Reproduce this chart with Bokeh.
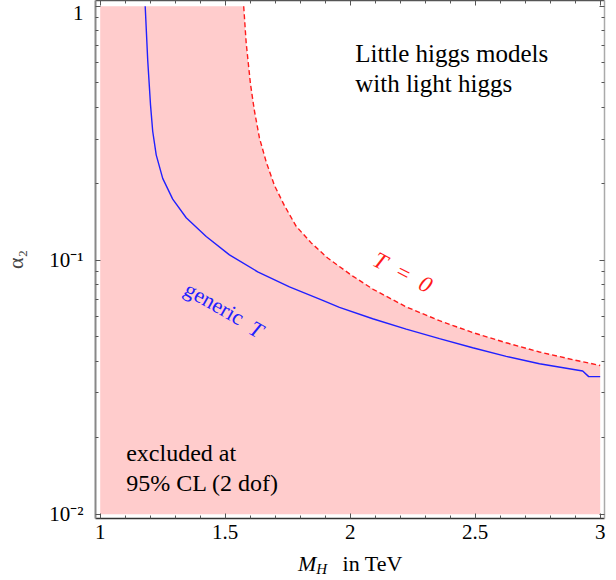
from bokeh.plotting import figure
from bokeh.models import Range1d, LinearAxis, LogAxis, FixedTicker, Label, Div
from bokeh.layouts import column
from bokeh.embed import file_html
from bokeh.resources import INLINE

# ---- data ----
# dashed T = 0 boundary (edge of the excluded region)
t0_x = [1.574, 1.584, 1.601, 1.617, 1.637, 1.664, 1.697, 1.737, 1.784, 1.844,
        1.91, 2.004, 2.09, 2.224, 2.357, 2.49, 2.624, 2.757, 2.89, 3.0]
t0_y = [1.0, 0.716, 0.495, 0.387, 0.303, 0.244, 0.197, 0.164, 0.136, 0.117,
        0.102, 0.0874, 0.077, 0.0655, 0.0578, 0.0519, 0.0473, 0.0435, 0.0406,
        0.0385]
# solid "generic T" curve
gen_x = [1.18, 1.19, 1.201, 1.21, 1.224, 1.25, 1.29, 1.344, 1.424, 1.517,
         1.63, 1.757, 1.89, 1.957, 2.09, 2.224, 2.357, 2.49, 2.624, 2.757,
         2.93, 2.954, 3.0]
gen_y = [1.0, 0.614, 0.412, 0.322, 0.26, 0.21, 0.174, 0.147, 0.124, 0.105,
         0.0900, 0.0785, 0.0695, 0.0652, 0.0588, 0.0535, 0.0491, 0.0452,
         0.0418, 0.0391, 0.0366, 0.0348, 0.0348]
# bounds of the scanned region
x_lo, x_hi = 1.0, 3.0
y_lo, y_hi = 0.01, 1.0

x_ticks = [1, 1.5, 2, 2.5, 3]
x_tick_labels = ["1", "1.5", "2", "2.5", "3"]
y_ticks = [0.01, 0.1, 1]
y_tick_labels = ["10\u207b\u00b2", "10\u207b\u00b9", "1"]

SERIF = "Liberation Serif"

x_minor = [round(1 + 0.1 * i, 2) for i in range(21) if i % 5 != 0]
y_minor = [m * 10.0 ** e for e in (-2, -1) for m in range(2, 10)]

p = figure(frame_width=509, frame_height=518,
           x_range=Range1d(0.9812, 3.0172),
           y_range=Range1d(10 ** -2.0172, 10 ** 0.0228),
           y_axis_type="log", output_backend="svg", toolbar_location=None,
           min_border_left=88, min_border_right=3, min_border_top=0,
           min_border_bottom=32)
p.grid.visible = False
p.outline_line_color = None
p.background_fill_color = "white"
p.border_fill_color = "white"

# excluded region
fill_x = [x_lo, x_lo] + t0_x + [x_hi]
fill_y = [y_lo, y_hi] + t0_y + [y_lo]
p.patch(fill_x, fill_y, fill_color="#FFCCCC", line_color=None)

p.line(t0_x, t0_y, line_color="#ff1a1a", line_width=1.4, line_dash="5 3")
p.line(gen_x, gen_y, line_color="#2020ff", line_width=1.4)


def style_axis(ax, ticks, minor, labels, show_labels, color):
    ax.ticker = FixedTicker(ticks=ticks, minor_ticks=minor)
    ax.major_tick_in = 5
    ax.major_tick_out = 0
    ax.minor_tick_in = 3
    ax.minor_tick_out = 0
    ax.axis_line_color = color
    ax.axis_line_width = 1.5
    ax.major_tick_line_color = "#555555"
    ax.minor_tick_line_color = "#555555"
    ax.axis_label_standoff = 0
    if show_labels:
        ax.major_label_overrides = dict(zip(ticks, labels))
        ax.major_label_text_font = SERIF
        ax.major_label_text_font_size = "21px"
        ax.major_label_text_color = "black"
    else:
        ax.major_label_text_font_size = "1px"
        ax.major_label_text_color = None
        ax.major_label_standoff = 0


xb = p.xaxis[0]
style_axis(xb, x_ticks, x_minor, x_tick_labels, True, "#333333")
xb.major_label_standoff = 6

yl = p.yaxis[0]
style_axis(yl, y_ticks, y_minor, y_tick_labels, True, "#888888")
yl.axis_line_width = 2
yl.major_label_standoff = 12
yl.axis_label = "\u03b1\u2082"
yl.axis_label_text_font = SERIF
yl.axis_label_text_font_size = "22px"
yl.axis_label_text_font_style = "normal"
yl.axis_label_standoff = 18

xt = LinearAxis()
style_axis(xt, x_ticks, x_minor, x_tick_labels, False, "#555555")
p.add_layout(xt, "above")
yr = LogAxis()
style_axis(yr, y_ticks, y_minor, y_tick_labels, False, "#aaaaaa")
p.add_layout(yr, "right")


# texts
def lab(x, y, text, size, color="black", style="normal", angle=0.0,
        align="left", baseline="alphabetic"):
    p.add_layout(Label(x=x, y=y, text=text, text_font=SERIF,
                       text_font_size=size, text_color=color,
                       text_font_style=style, angle=angle,
                       text_align=align, text_baseline=baseline))


lab(2.02, 0.653, "Little higgs models", "25px")
lab(2.02, 0.495, "with light higgs", "25px")
lab(1.104, 0.01733, "excluded at", "24px")
lab(1.104, 0.01323, "95% CL (2 dof)", "24px")
lab(2.21, 0.0895, "T\u2002=\u20020", "23px", color="#ff1a1a", style="italic",
    angle=-0.478, align="center", baseline="middle")
lab(1.457, 0.0677, "generic", "22px", color="#2020ff", angle=-0.518,
    align="center", baseline="middle")
lab(1.624, 0.0535, "T", "22px", color="#2020ff", style="italic",
    angle=-0.518, align="center", baseline="middle")

# x axis title: M_H in TeV (as real text below the plot)
title = Div(
    text='<span style="position:relative;top:1px;"><i>M</i>'
         '<i style="font-size:15px;position:relative;top:3px;">H</i>'
         '&nbsp;&nbsp;\u2009in TeV</span>',
    width=600, height=28, margin=(0, 0, 0, 0),
    styles={"font-family": "'Liberation Serif', serif", "font-size": "22px",
            "line-height": "26px", "padding-left": "298px",
            "color": "black", "overflow": "visible"})

layout = column(p, title, spacing=0)
open("out.html", "w").write(file_html(layout, INLINE))
